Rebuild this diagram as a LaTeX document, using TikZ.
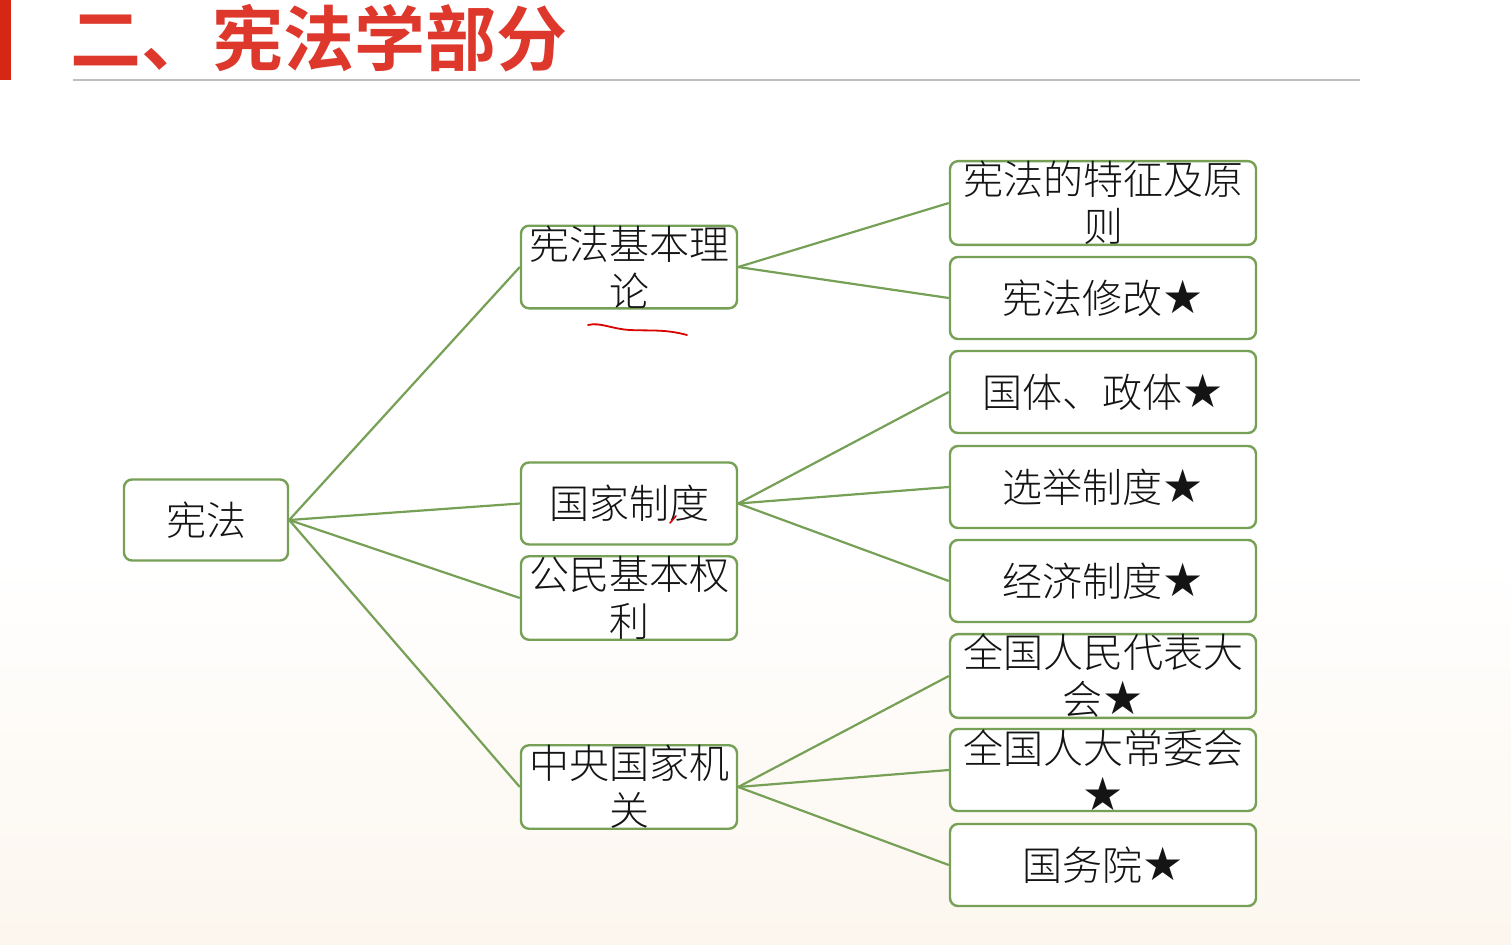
\documentclass[tikz,border=0pt]{standalone}
\usepackage{fontspec}
\setmainfont{Noto Sans CJK SC}[UprightFont=* Light, BoldFont=* Bold]
\newfontfamily\symf{DejaVu Sans}
\newcommand{\xing}{{\symf\fontsize{23pt}{23.5pt}\selectfont ★}}
\definecolor{boxgreen}{RGB}{118,160,86}
\definecolor{titlered}{RGB}{222,56,44}
\definecolor{barred}{RGB}{214,38,20}
\definecolor{txt}{RGB}{20,20,20}
\definecolor{warm}{RGB}{252,246,238}
\begin{document}
\begin{tikzpicture}[x=0.5pt,y=-0.5pt,
  box/.style={draw=boxgreen, line width=1.2pt, rounded corners=4pt, fill=white,
    inner sep=0pt, align=center, text=txt,
    font=\fontsize{20pt}{23.5pt}\selectfont},
  midbox/.style={box, minimum width=108pt, minimum height=41pt},
  rbox/.style={box, minimum width=153pt, minimum height=41pt},
  link/.style={draw=boxgreen, line width=1.1pt}]
\useasboundingbox (0,0) rectangle (1511,944);
\fill[white] (0,0) rectangle (1511,944);
\shade[top color=white, bottom color=warm] (0,560) rectangle (1511,944);
% header
\fill[barred] (0,0) rectangle (11,80);
\node[anchor=west, inner sep=0pt, text=titlered, font=\fontsize{35.5pt}{40pt}\selectfont\bfseries] (title) at (70,38) {二、宪法学部分};
\draw[gray!50, line width=0.9pt] (73,80) -- (1360,80);
% nodes
\node[box, minimum width=82pt, minimum height=40.5pt] (root) at (206,520) {宪法};
\node[midbox] (m1) at (629,267) {宪法基本理\\论};
\node[midbox] (m2) at (629,503.5) {国家制度};
\node[midbox] (m3) at (629,598) {公民基本权\\利};
\node[midbox] (m4) at (629,787) {中央国家机\\关};
\node[rbox] (r1) at (1103,203) {宪法的特征及原\\则};
\node[rbox] (r2) at (1103,298) {宪法修改\xing};
\node[rbox] (r3) at (1103,392) {国体、政体\xing};
\node[rbox] (r4) at (1103,487) {选举制度\xing};
\node[rbox] (r5) at (1103,581) {经济制度\xing};
\node[rbox] (r6) at (1103,676) {全国人民代表大\\会\xing};
\node[rbox] (r7) at (1103,770) {全国人大常委会\\\xing};
\node[rbox] (r8) at (1103,865) {国务院\xing};
% connectors
\path[link] (root.east) -- (m1.west);
\path[link] (root.east) -- (m2.west);
\path[link] (root.east) -- (m3.west);
\path[link] (root.east) -- (m4.west);
\path[link] (m1.east) -- (r1.west);
\path[link] (m1.east) -- (r2.west);
\path[link] (m2.east) -- (r3.west);
\path[link] (m2.east) -- (r4.west);
\path[link] (m2.east) -- (r5.west);
\path[link] (m4.east) -- (r6.west);
\path[link] (m4.east) -- (r7.west);
\path[link] (m4.east) -- (r8.west);
% hand annotations
\draw[red!85!black, line width=0.9pt, line cap=round] (588,325) .. controls (600,322) and (612,329) .. (630,330) .. controls (650,331) and (665,329) .. (687,335);
\draw[red!85!black, line width=0.8pt, line cap=round] (670,523) -- (676,516);
\end{tikzpicture}
\end{document}
